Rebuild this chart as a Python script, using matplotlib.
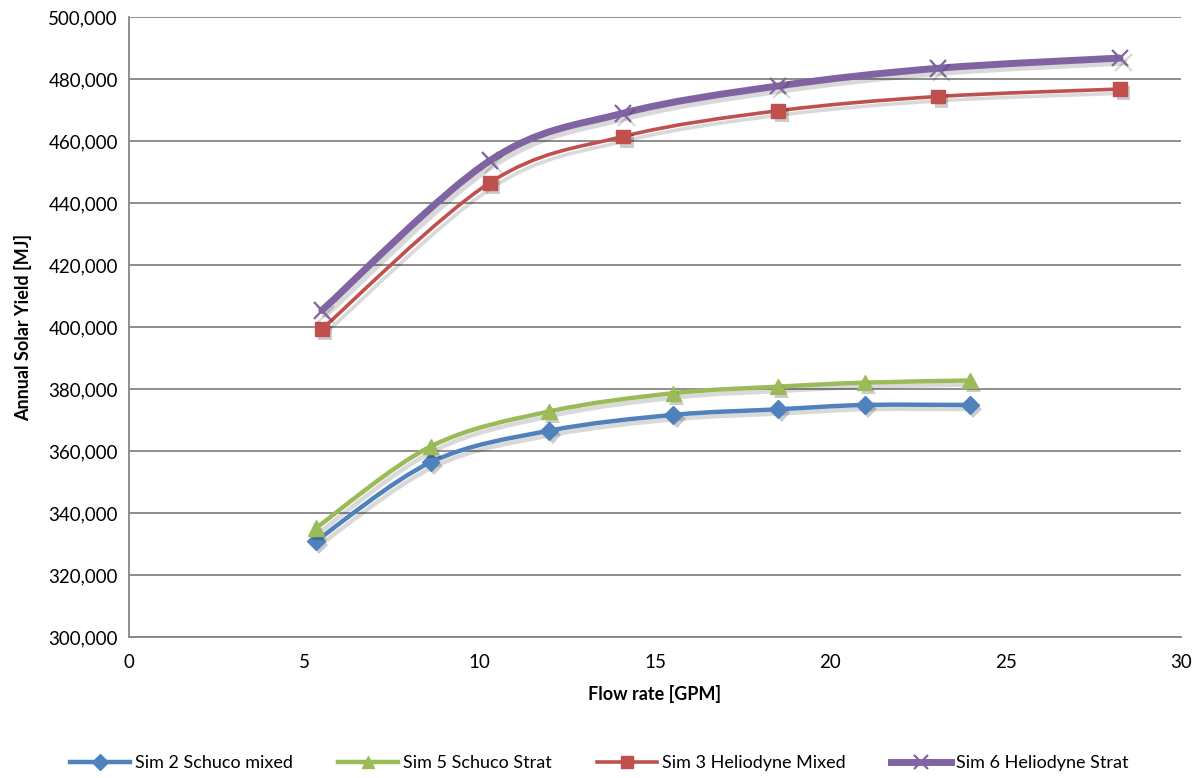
import matplotlib
matplotlib.use("Agg")
import matplotlib.pyplot as plt
import matplotlib.patheffects as pe
from matplotlib.path import Path
from matplotlib.patches import PathPatch
from matplotlib.lines import Line2D
from matplotlib.ticker import FuncFormatter
import numpy as np

plt.rcParams['font.family'] = ['Lato', 'DejaVu Sans']

# values
sim2_x = [5.33, 8.6, 11.98, 15.52, 18.51, 20.98, 23.98]
sim2_y = [331000, 356400, 366600, 371700, 373500, 374900, 374900]
sim5_x = [5.33, 8.6, 11.98, 15.52, 18.51, 20.98, 23.98]
sim5_y = [335200, 361500, 372800, 378700, 380800, 382100, 382800]
sim3_x = [5.5, 10.29, 14.09, 18.51, 23.07, 28.26]
sim3_y = [399400, 446600, 461500, 469800, 474400, 476800]
sim6_x = [5.5, 10.29, 14.09, 18.51, 23.07, 28.26]
sim6_y = [405400, 453700, 469000, 477800, 483500, 486800]

names = ["Sim 2 Schuco mixed", "Sim 5 Schuco Strat",
         "Sim 3 Heliodyne Mixed", "Sim 6 Heliodyne Strat"]
colors = ["#4F81BD", "#9BBB59", "#C0504D", "#8064A2"]


def smooth_path(xs, ys):
    # Excel-like smoothed line: cubic bezier through the points
    p = np.column_stack([xs, ys]).astype(float)
    n = len(p)
    verts = [p[0]]
    codes = [Path.MOVETO]
    for i in range(n - 1):
        p0 = p[i - 1] if i > 0 else p[i]
        p1 = p[i]
        p2 = p[i + 1]
        p3 = p[i + 2] if i + 2 < n else p[i + 1]
        c1 = p1 + (p2 - p0) / 6.0
        c2 = p2 - (p3 - p1) / 6.0
        verts += [c1, c2, p2]
        codes += [Path.CURVE4] * 3
    return Path(verts, codes)


fig = plt.figure(figsize=(11.99, 7.78), dpi=100)
ax = fig.add_axes([0.1076, 0.181, 0.8774, 0.797])

line_shadow = [pe.SimpleLineShadow(offset=(2.5, -3), shadow_color='k', alpha=0.15), pe.Normal()]
mark_shadow = [pe.SimplePatchShadow(offset=(2.5, -3), shadow_rgbFace='k', alpha=0.2), pe.Normal()]

series = [(sim2_x, sim2_y, 'D', 9, 3.2), (sim5_x, sim5_y, '^', 11, 3.2),
          (sim3_x, sim3_y, 's', 10, 2.6), (sim6_x, sim6_y, 'x', 12, 5.0)]

handles = []
for (xs, ys, mk, ms, lw), c, nm in zip(series, colors, names):
    patch = PathPatch(smooth_path(xs, ys), facecolor='none', edgecolor=c, lw=lw,
                      capstyle='round', joinstyle='round', zorder=3)
    patch.set_path_effects(line_shadow)
    ax.add_patch(patch)
    if mk == 'x':
        ax.plot(xs, ys, ls='none', marker=mk, ms=ms, mew=1.6, color=c, zorder=4,
                path_effects=line_shadow)
    else:
        ax.plot(xs, ys, ls='none', marker=mk, ms=ms, mfc=c, mec=c, zorder=4,
                path_effects=mark_shadow)
    handles.append(Line2D([], [], color=c, lw=lw, marker=mk, ms=ms * 0.85,
                          mew=1.6 if mk == 'x' else 1.0))

ax.set_xlim(0, 30)
ax.set_ylim(300000, 500000)
ax.set_xticks(np.arange(0, 31, 5))
ax.set_yticks(np.arange(300000, 500001, 20000))
ax.yaxis.set_major_formatter(FuncFormatter(lambda v, p: f"{int(v):,}"))
ax.grid(axis='y', color='#868686', lw=1.3)
ax.set_axisbelow(True)
for s in ['top', 'right']:
    ax.spines[s].set_visible(False)
for s in ['left', 'bottom']:
    ax.spines[s].set_color('#868686')
    ax.spines[s].set_linewidth(1.3)
ax.tick_params(length=0, labelsize=13.5, colors='black', pad=8)
ax.tick_params(axis='x', pad=12)

ax.set_xlabel("Flow rate [GPM]", fontsize=13, fontweight='bold', labelpad=10)
ax.set_ylabel("Annual Solar Yield [MJ]", fontsize=13, fontweight='bold', labelpad=12)

fig.legend(handles, names, loc='lower center', bbox_to_anchor=(0.5, -0.012), ncol=4,
           frameon=False, fontsize=13, handlelength=3.3, columnspacing=2.5,
           handletextpad=0.3)

fig.savefig("out.png", dpi=100)
